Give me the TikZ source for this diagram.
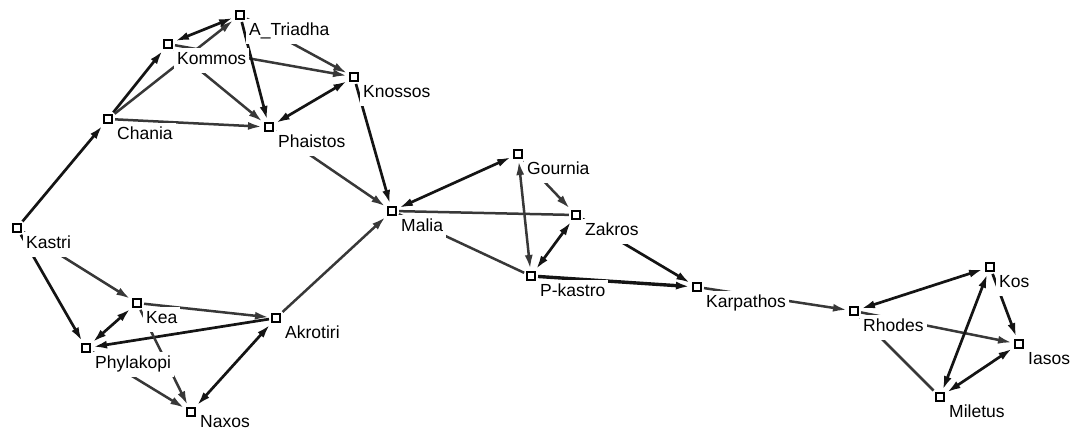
\documentclass[tikz,border=0pt]{standalone}
\usepackage{fontspec}
\setmainfont{Liberation Sans}
\usetikzlibrary{arrows.meta,backgrounds}
\tikzset{
  sq/.style={draw=black, fill=white, line width=1.6pt, rectangle, minimum size=8.5pt, inner sep=0pt},
  lab/.style={anchor=north west, fill=white, inner xsep=3pt, inner ysep=4pt,
    text height=13pt, text depth=4pt, font=\fontsize{17.5}{20}\selectfont},
  eb/.style={line width=2.7pt, draw=black!92, shorten >=2pt, shorten <=2pt},
  eg/.style={line width=2.5pt, draw=black!78, shorten >=2pt, shorten <=2pt},
  >={Latex[length=14pt,width=8pt]}
}
\newcommand\site[5][]{\node[sq] (#2) at (#3,#4) {};
  \node[lab,#1] (#2-l) at ([xshift=6pt,yshift=-3.5pt]#2.center) {#5};}
\begin{document}
\begin{tikzpicture}[x=1pt,y=-1pt]
\useasboundingbox (0,0) rectangle (1075,434);
\site{atriadha}{240}{15}{A\_Triadha}
\site{kommos}{168}{44}{Kommos}
\site{knossos}{354}{77}{Knossos}
\site{chania}{108}{119}{Chania}
\site{phaistos}{269}{127}{Phaistos}
\site{kastri}{17}{228}{Kastri}
\site{malia}{392}{211}{Malia}
\site{gournia}{518}{154}{Gournia}
\site{zakros}{576}{215}{Zakros}
\site{pkastro}{531}{276}{P-kastro}
\site{karpathos}{697}{287}{Karpathos}
\site{kea}{137}{303}{Kea}
\site{akrotiri}{276}{318}{Akrotiri}
\site{phylakopi}{86}{348}{Phylakopi}
\site[text depth=0pt, inner ysep=2pt, yshift=3pt]{naxos}{191}{412}{Naxos}
\site{kos}{990}{267}{Kos}
\site{rhodes}{854}{311}{Rhodes}
\site{iasos}{1019}{344}{Iasos}
\site{miletus}{940}{397}{Miletus}
\begin{scope}[on background layer]
\draw[eb,->] (kastri) -- (chania);
\draw[eb,->] (chania) -- (kommos);
\draw[eg,->] (chania) -- (atriadha);
\draw[eg,->] (chania) -- (phaistos);
\draw[eb,<->] (kommos) -- (atriadha);
\draw[eg,->] (kommos) -- (knossos);
\draw[eg,->] (kommos) -- (phaistos);
\draw[eb,->] (atriadha) -- (phaistos);
\draw[eg,->] (atriadha) -- (knossos);
\draw[eb,<->] (knossos) -- (phaistos);
\draw[eb,->] (knossos) -- (malia);
\draw[eg,->] (phaistos) -- (malia);
\draw[eg,->] (kastri) -- (kea);
\draw[eb,->] (kastri) -- (phylakopi);
\draw[eb,<->] (kea) -- (phylakopi);
\draw[eg,->] (kea) -- (akrotiri);
\draw[eb,->] (akrotiri) -- (phylakopi);
\draw[eg,->] (kea) -- (naxos);
\draw[eg,->] (phylakopi) -- (naxos);
\draw[eb,<->] (naxos) -- (akrotiri);
\draw[eg,->] (akrotiri) -- (malia);
\draw[eb,<->] (malia) -- (gournia);
\draw[eg] (zakros) -- (malia);
\draw[eg,<->] (gournia) -- (pkastro);
\draw[eg,->] (gournia) -- (zakros);
\draw[eb,<->] (zakros) -- (pkastro);
\draw[eg] (malia) -- (pkastro);
\draw[eb,->] (zakros) -- (karpathos);
\draw[eb,->,line width=3.4pt] (pkastro) -- (karpathos);
\draw[eg,->] (karpathos) -- (rhodes);
\draw[eb,<->] (rhodes) -- (kos);
\draw[eg,->] (rhodes) -- (iasos);
\draw[eg] (rhodes) -- (miletus);
\draw[eb,<->] (kos) -- (miletus);
\draw[eb,->] (kos) -- (iasos);
\draw[eb,<->] (miletus) -- (iasos);
\end{scope}
\end{tikzpicture}
\end{document}
